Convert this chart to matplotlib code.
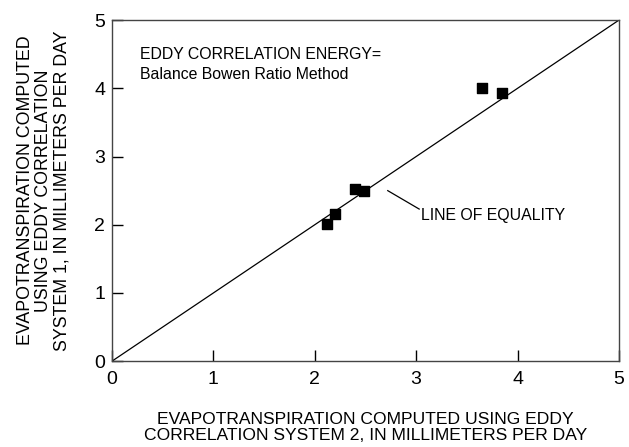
import numpy as np
from matplotlib import pyplot as plt

plt.rcParams['font.family'] = ['Liberation Sans', 'DejaVu Sans']

# eddy correlation system 2 (x) vs system 1 (y), mm per day
system2 = [2.12, 2.20, 2.40, 2.49, 3.65, 3.85]
system1 = [2.01, 2.16, 2.52, 2.49, 4.00, 3.93]
ticks = [0, 1, 2, 3, 4, 5]

fig = plt.figure(figsize=(6.29, 4.47), dpi=100)
ax = fig.add_axes([0.178, 0.192, 0.806, 0.763])

ax.plot([0, 5], [0, 5], color='black', linewidth=0.9)
ax.scatter(system2, system1, marker='s', s=45, color='black', zorder=3)

ax.set_xlim(0, 5)
ax.set_ylim(0, 5)
ax.set_xticks(ticks)
ax.set_yticks(ticks)
ax.tick_params(direction='in', length=8, width=1, labelsize=14)
ax.tick_params(axis='x', pad=7)
ax.tick_params(axis='y', pad=5)
for sp in ax.spines.values():
    sp.set_color('#444444')
    sp.set_linewidth(1)

ax.set_xlabel("EVAPOTRANSPIRATION COMPUTED USING EDDY\nCORRELATION SYSTEM 2, IN MILLIMETERS PER DAY",
              fontsize=12.6, linespacing=1.02)
ax.set_ylabel("EVAPOTRANSPIRATION COMPUTED\nUSING EDDY CORRELATION\nSYSTEM 1, IN MILLIMETERS PER DAY",
              fontsize=12.8, linespacing=1.08)
ax.xaxis.set_label_coords(0.5, -0.150)
ax.yaxis.set_label_coords(-0.082, 0.5)

ax.text(0.28, 4.50, "EDDY CORRELATION ENERGY=", fontsize=11.4, va='center')
ax.text(0.28, 4.21, "Balance Bowen Ratio Method", fontsize=11.4, va='center')

ax.plot([2.72, 3.03], [2.5, 2.23], color='black', linewidth=0.9)
ax.text(3.05, 2.14, "LINE OF EQUALITY", fontsize=11.4, va='center')

fig.savefig('out.png', dpi=100)
